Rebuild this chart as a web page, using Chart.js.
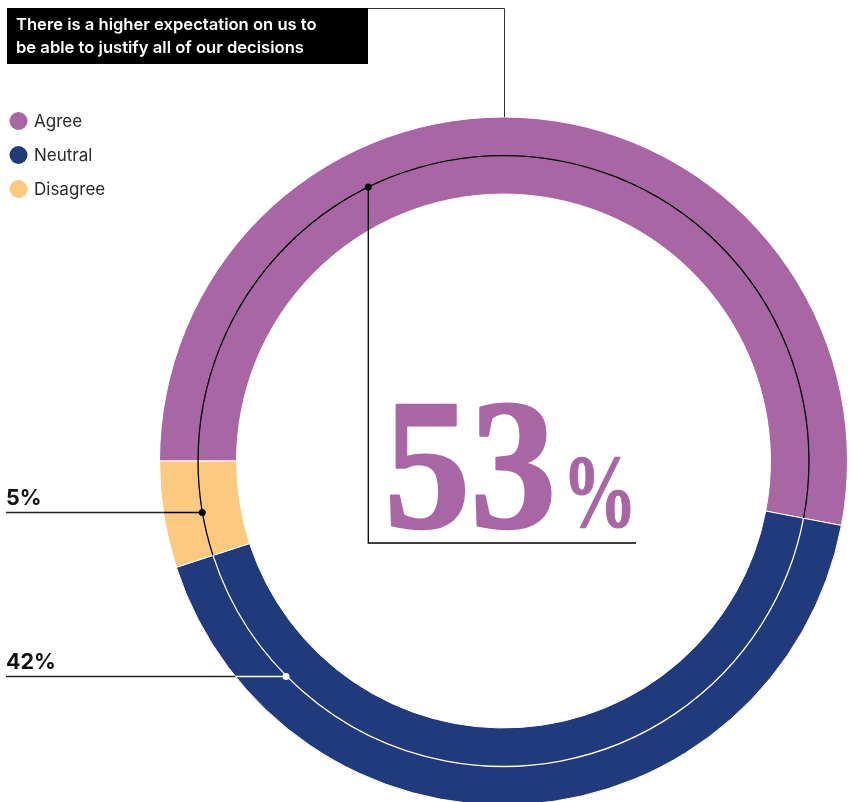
<!DOCTYPE html>
<html>
<head>
<meta charset="utf-8">
<script src="https://cdn.jsdelivr.net/npm/chart.js@4.4.1/dist/chart.umd.min.js"></script>
<style>
  html, body { margin: 0; padding: 0; background: #ffffff; overflow: hidden; }
  #wrap { position: relative; width: 851px; height: 802px; overflow: hidden; }
  #chart { position: absolute; left: 0; top: 0; }
</style>
</head>
<body>
<div id="wrap"><canvas id="chart" width="851" height="922"></canvas></div>
<script>
// Survey answers (percent of respondents)
const categories = ['Agree', 'Neutral', 'Disagree'];
const values = [53, 42, 5];
const colors = ['#A867A4', '#213A7C', '#FBC97F'];
const titleLines = ['There is a higher expectation on us to', 'be able to justify all of our decisions'];

// Colour of the thin guide ring over each segment
const guideColors = ['#000000', '#ffffff', '#000000'];
// Where, inside each segment (0..1 of its sweep), the callout dot sits
const calloutFrac = [0.334, 0.824, 0.47];

const SANS = "Inter, 'Noto Sans', sans-serif";

function pointAt(cx, cy, r, angle) {
  return { x: cx + r * Math.cos(angle), y: cy + r * Math.sin(angle) };
}

const annotations = {
  id: 'annotations',
  afterDatasetsDraw(chart) {
    const ctx = chart.ctx;
    const arcs = chart.getDatasetMeta(0).data;
    const cx = arcs[0].x, cy = arcs[0].y;
    const rOut = arcs[0].outerRadius, rIn = arcs[0].innerRadius;
    const rMid = (rOut + rIn) / 2;

    ctx.save();
    // thin guide ring through the middle of the band
    arcs.forEach((arc, i) => {
      ctx.beginPath();
      ctx.arc(cx, cy, rMid, arc.startAngle, arc.endAngle);
      ctx.strokeStyle = guideColors[i];
      ctx.lineWidth = 1.3;
      ctx.stroke();
    });

    const dots = arcs.map((arc, i) => {
      const a = arc.startAngle + (arc.endAngle - arc.startAngle) * calloutFrac[i];
      return pointAt(cx, cy, rMid, a);
    });

    // title box
    ctx.fillStyle = '#000000';
    ctx.fillRect(7, 8, 361, 56);
    ctx.fillStyle = '#ffffff';
    ctx.font = '600 16.6px ' + SANS;
    ctx.textBaseline = 'alphabetic';
    ctx.textAlign = 'left';
    ctx.fillText(titleLines[0], 16, 30);
    ctx.fillText(titleLines[1], 16, 53);

    // title connector down to the ring
    ctx.beginPath();
    ctx.moveTo(368, 8.5);
    ctx.lineTo(Math.round(cx) + 0.5, 8.5);
    ctx.lineTo(Math.round(cx) + 0.5, cy - rOut);
    ctx.strokeStyle = '#333333';
    ctx.lineWidth = 1;
    ctx.stroke();

    // legend
    ctx.font = '400 17px ' + SANS;
    ctx.textBaseline = 'middle';
    categories.forEach((c, i) => {
      const y = 121 + i * 34;
      ctx.beginPath();
      ctx.arc(18.5, y, 9, 0, Math.PI * 2);
      ctx.fillStyle = colors[i];
      ctx.fill();
      ctx.fillStyle = '#2a2a2a';
      ctx.fillText(c, 34, y + 1);
    });

    // big callout for the first segment
    const d0 = dots[0];
    const lineY = cy + 82;
    ctx.beginPath();
    ctx.moveTo(d0.x, d0.y);
    ctx.lineTo(d0.x, lineY);
    ctx.lineTo(636, lineY);
    ctx.strokeStyle = '#000000';
    ctx.lineWidth = 1.3;
    ctx.stroke();
    ctx.beginPath();
    ctx.arc(d0.x, d0.y, 3.5, 0, Math.PI * 2);
    ctx.fillStyle = '#000000';
    ctx.fill();

    ctx.fillStyle = colors[0];
    ctx.strokeStyle = colors[0];
    ctx.lineJoin = 'round';
    ctx.textBaseline = 'alphabetic';
    ctx.save();
    ctx.translate(d0.x + 16, cy + 66);
    ctx.scale(0.92, 1);
    ctx.font = 'bold 187px "Liberation Serif", serif';
    const numTxt = String(values[0]);
    ctx.lineWidth = 2.5;
    ctx.strokeText(numTxt, 0, 0);
    ctx.fillText(numTxt, 0, 0);
    const numW = ctx.measureText(numTxt).width;
    ctx.restore();
    ctx.save();
    ctx.translate(d0.x + 16 + numW * 0.92 + 6, cy + 66);
    ctx.scale(0.72, 1);
    ctx.font = 'bold 104px "Liberation Serif", serif';
    ctx.lineWidth = 1;
    ctx.strokeText('%', 0, 0);
    ctx.fillText('%', 0, 0);
    ctx.restore();

    // side callouts for the other segments
    [2, 1].forEach((i) => {
      const d = dots[i];
      const y = Math.round(d.y) + 0.5;
      const dy = y - cy;
      const xEdge = cx - Math.sqrt(Math.max(rOut * rOut - dy * dy, 0));
      ctx.lineWidth = 1.3;
      ctx.beginPath();
      ctx.moveTo(6, y);
      ctx.lineTo(xEdge, y);
      ctx.strokeStyle = '#222222';
      ctx.stroke();
      ctx.beginPath();
      ctx.moveTo(xEdge, y);
      ctx.lineTo(d.x, y);
      ctx.strokeStyle = guideColors[i];
      ctx.stroke();
      ctx.beginPath();
      ctx.arc(d.x, y, 3.5, 0, Math.PI * 2);
      ctx.fillStyle = guideColors[i];
      ctx.fill();

      ctx.fillStyle = '#111111';
      ctx.font = '700 21.5px ' + SANS;
      ctx.fillText(values[i] + '%', 6, y - 8);
    });
    ctx.restore();
  }
};

new Chart(document.getElementById('chart'), {
  type: 'doughnut',
  data: {
    labels: categories,
    datasets: [{
      data: values,
      backgroundColor: colors,
      borderColor: '#ffffff',
      borderWidth: 1,
      hoverOffset: 0
    }]
  },
  options: {
    responsive: false,
    animation: false,
    rotation: 270,
    cutout: '77.6%',
    layout: { padding: { left: 159, right: 3, top: 0, bottom: 0 } },
    plugins: {
      legend: { display: false },
      tooltip: { enabled: false },
      title: { display: false }
    }
  },
  plugins: [annotations]
});
</script>
</body>
</html>
